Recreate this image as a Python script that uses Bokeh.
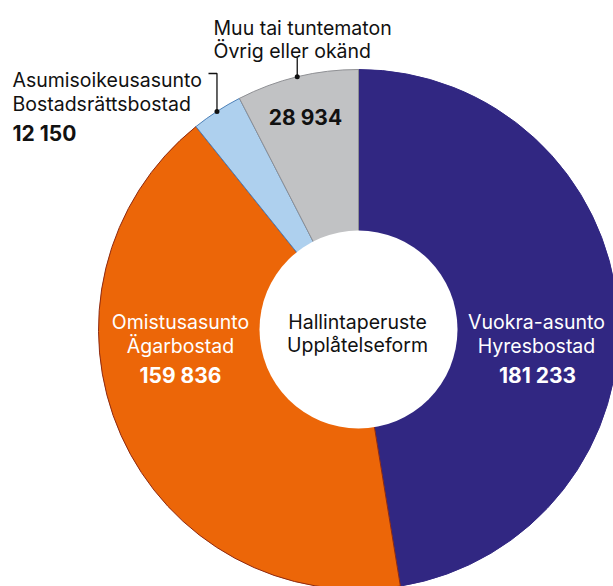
import numpy as np
from bokeh.plotting import figure
from bokeh.models import Range1d
from bokeh.core.properties import value
from bokeh.embed import file_html
from bokeh.resources import INLINE

# ---- data ----
labels_fi = ["Vuokra-asunto", "Omistusasunto", "Asumisoikeusasunto", "Muu tai tuntematon"]
labels_sv = ["Hyresbostad", "Ägarbostad", "Bostadsrättsbostad", "Övrig eller okänd"]
counts = [181233, 159836, 12150, 28934]
fill_colors = ["#312782", "#EC6608", "#AED0EE", "#C1C2C4"]
edge_colors = ["#312782", "#8E2A12", "#4F82B8", "#8F9094"]
center_title = ["Hallintaperuste", "Upplåtelseform"]

FONT = "Inter"
W, H = 613, 586


def Y(py):
    # convert page pixel y to data y (y axis points up)
    return H - py


def fmt(v):
    return f"{v:,}".replace(",", " ")


p = figure(width=W, height=H, output_backend="svg", toolbar_location=None,
           x_range=Range1d(0, W), y_range=Range1d(0, H),
           min_border=0, outline_line_color=None)
p.axis.visible = False
p.grid.visible = False
p.background_fill_color = "white"
p.border_fill_color = "white"

cx, cy = 358, Y(329)
R_OUT, R_IN = 260, 99

vals = np.array(counts, dtype=float)
frac = vals / vals.sum()
cum_end = np.cumsum(frac)
cum_start = cum_end - frac
start_a = np.pi / 2 - 2 * np.pi * cum_end
end_a = np.pi / 2 - 2 * np.pi * cum_start
mid_a = np.pi / 2 - 2 * np.pi * (cum_start + cum_end) / 2

p.wedge(x=[cx] * 4, y=[cy] * 4, radius=R_OUT, radius_units="screen",
        start_angle=list(start_a), end_angle=list(end_a),
        fill_color=fill_colors, line_color=edge_colors, line_width=1)
p.circle(x=[cx], y=[cy], radius=R_IN, radius_units="screen",
         fill_color="white", line_color=None)

# leader dots at slice mid-angles
dot_x = cx + R_OUT * np.cos(mid_a)
dot_y = cy + R_OUT * np.sin(mid_a)

# Muu (index 3): vertical leader
p.line(x=[dot_x[3], dot_x[3]], y=[dot_y[3], Y(57)], line_color="#111111", line_width=1.3)
# Asumisoikeus (index 2): vertical then horizontal
p.line(x=[dot_x[2], dot_x[2], 208], y=[dot_y[2], Y(73), Y(73)], line_color="#111111", line_width=1.3)
p.scatter(x=[dot_x[2], dot_x[3]], y=[dot_y[2], dot_y[3]], size=5,
          fill_color="#111111", line_color=None)


def txt(x, py, s, color="#111111", bold=False, align="left", size="19.5px"):
    p.text(x=[x], y=[Y(py)], text=[s], text_font=value(FONT), text_font_size=size,
           text_font_style="bold" if bold else "normal", text_color=color,
           text_align=align, text_baseline="alphabetic")


# Vuokra-asunto (inside, white)
txt(536, 321, labels_fi[0], "white", align="center")
txt(536, 345, labels_sv[0], "white", align="center")
txt(537, 375, fmt(counts[0]), "white", bold=True, align="center", size="21px")
# Omistusasunto (inside, white)
txt(180, 321, labels_fi[1], "white", align="center")
txt(180, 345, labels_sv[1], "white", align="center")
txt(180, 375, fmt(counts[1]), "white", bold=True, align="center", size="21px")
# Asumisoikeusasunto (outside)
txt(12, 79, labels_fi[2])
txt(12, 103, labels_sv[2])
txt(12, 133, fmt(counts[2]), bold=True, size="21px")
# Muu (outside label, number inside)
txt(213, 27, labels_fi[3])
txt(213, 50, labels_sv[3])
txt(305, 117, fmt(counts[3]), bold=True, align="center", size="21px")
# centre title
txt(357, 321, center_title[0], align="center")
txt(357, 344, center_title[1], align="center")

open("out.html", "w").write(file_html(p, INLINE))
